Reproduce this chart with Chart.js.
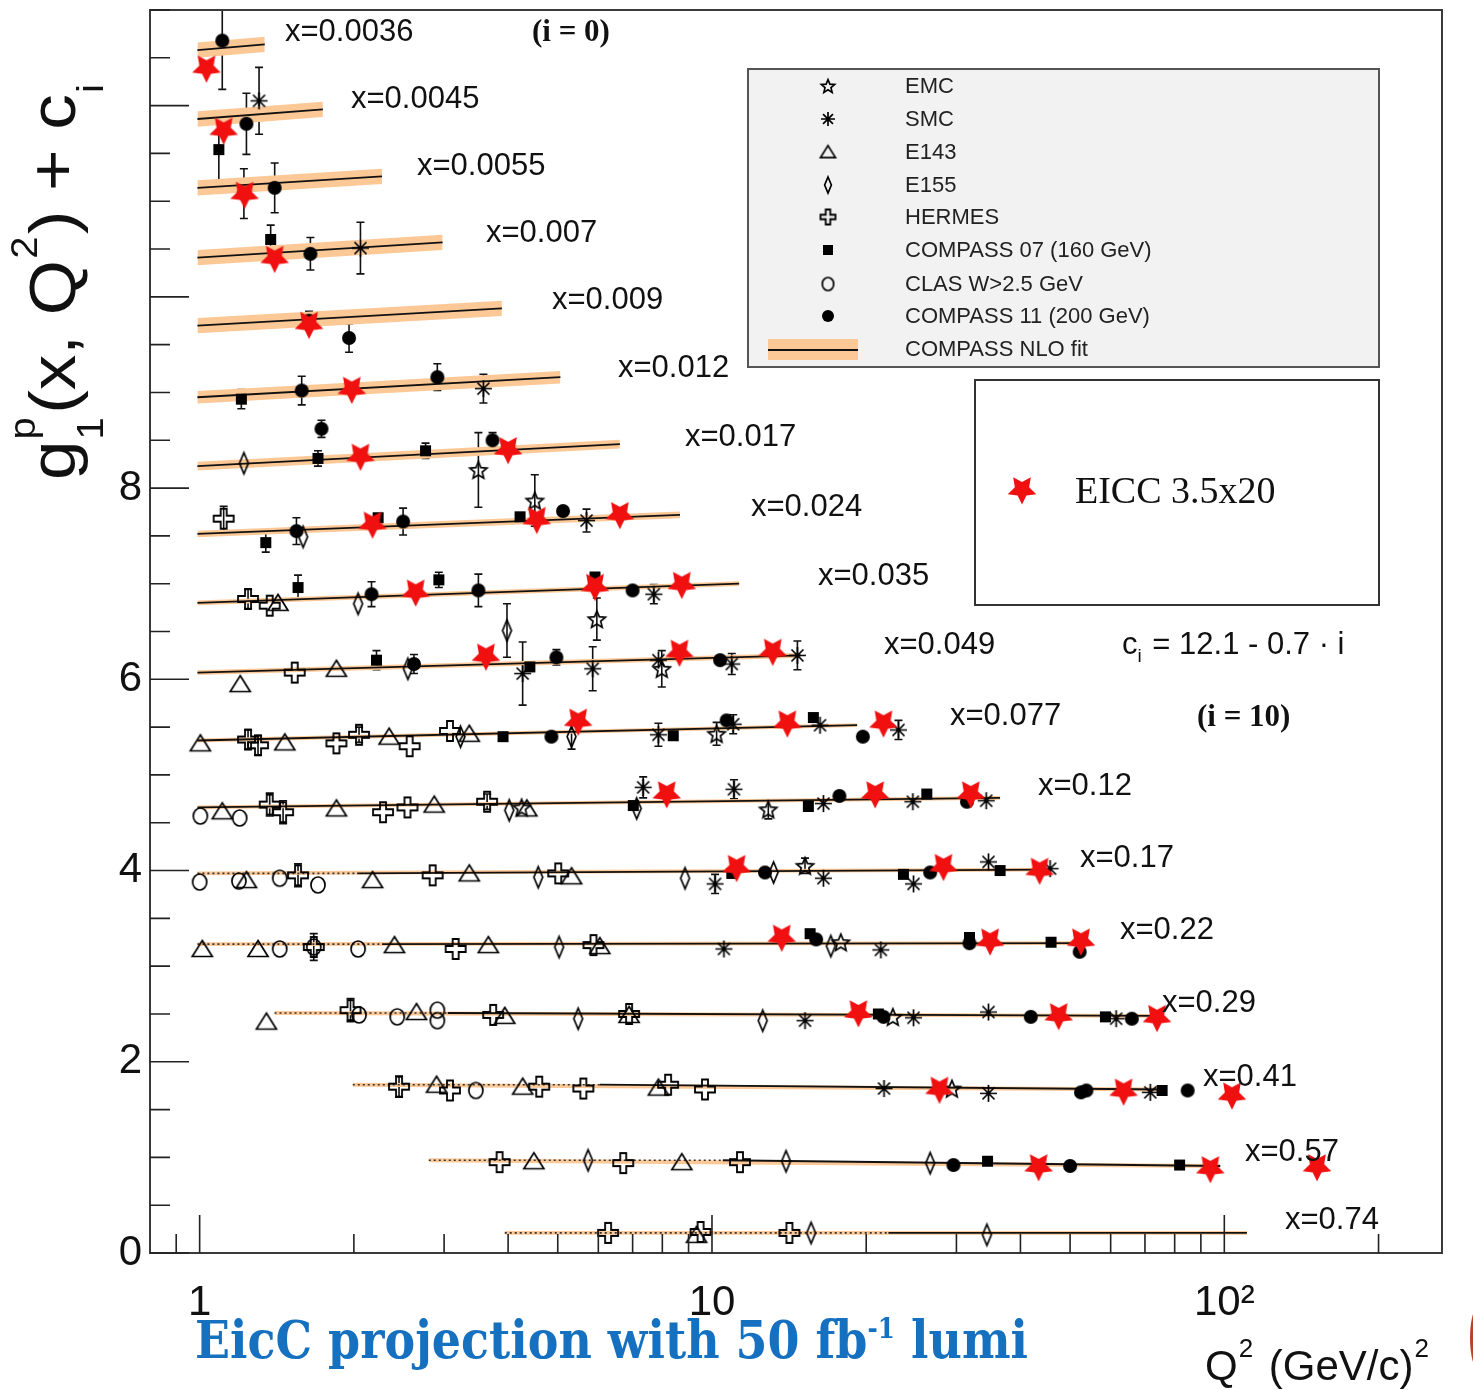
<!DOCTYPE html>
<html>
<head>
<meta charset="utf-8">
<title>g1p(x, Q2) world data with EicC projection</title>
<script src="https://cdn.jsdelivr.net/npm/chart.js@4.4.1/dist/chart.umd.min.js"></script>
<style>
  html, body { margin: 0; padding: 0; background: #fff; }
  canvas { display: block; }
</style>
</head>
<body>
<canvas id="g1chart" width="1473" height="1390"></canvas>
<script>
// x bins, i = 0 .. 17 (plotted value is g1 + c_i, c_i = 12.1 - 0.7 i)
const xBins = ['0.0036', '0.0045', '0.0055', '0.007', '0.009', '0.012', '0.017', '0.024', '0.035',
  '0.049', '0.077', '0.12', '0.17', '0.22', '0.29', '0.41', '0.57', '0.74'];

const expNames = ['EMC', 'SMC', 'E143', 'E155', 'HERMES', 'COMPASS 07 (160 GeV)',
  'CLAS W>2.5 GeV', 'COMPASS 11 (200 GeV)'];
const fitName = 'COMPASS NLO fit';
const eiccName = 'EICC 3.5x20';

// EMC
const emcQ2 = [3.50, 4.51, 5.96, 7.98, 10.21, 4.25, 12.88, 15.19, 17.84, 22.54, 29.4];
const emcVal = [8.19, 7.87, 6.63, 6.11, 5.43, 4.66, 4.64, 4.05, 3.25, 2.47, 1.72];
const emcErr = [0.39, 0.27, 0.22, 0.19, 0.12, 0, 0.10, 0.08, 0, 0, 0];

// SMC
const smcQ2 = [1.306, 2.06, 3.58, 5.69, 7.70, 4.27, 5.85, 7.86, 10.93, 14.68, 7.86, 11.0, 16.25, 23.12,
  7.34, 11.04, 16.5, 24.66, 34.3, 10.14, 16.5, 24.74, 34.65, 45.7, 10.55, 21.36, 15.19, 24.74, 34.65, 61.5,
  21.67, 34.65, 71.7];
const smcVal = [12.05, 10.51, 9.04, 7.66, 6.89, 6.06, 6.11, 6.20, 6.16, 6.25, 5.42, 5.53, 5.52, 5.47,
  4.87, 4.85, 4.70, 4.72, 4.73, 3.86, 3.92, 3.86, 4.09, 4.02, 3.18, 3.17, 2.43, 2.46, 2.52, 2.45,
  1.72, 1.67, 1.68];
const smcErr = [0.35, 0.27, 0.15, 0.12, 0.10, 0.33, 0.23, 0, 0.11, 0.15, 0.12, 0.10, 0, 0.10,
  0.11, 0.10, 0, 0, 0, 0.10, 0, 0, 0, 0, 0, 0, 0, 0, 0, 0, 0, 0, 0];

// E143
const e143Q2 = [1.422, 1.20, 1.849, 1.003, 1.466, 2.343, 3.36, 1.107, 1.849, 2.87, 4.35, 1.234, 2.175,
  3.36, 5.32, 1.012, 1.30, 2.40, 3.66, 6.04, 1.35, 2.65, 3.94, 6.89, 2.90, 4.27, 7.86, 4.49, 8.73, 9.33];
const e143Val = [6.80, 5.95, 6.11, 5.33, 5.34, 5.40, 5.43, 4.62, 4.65, 4.69, 4.65, 3.90, 3.90,
  3.97, 3.94, 3.18, 3.18, 3.22, 3.22, 3.21, 2.42, 2.52, 2.48, 2.49, 1.76, 1.74, 1.73, 0.96, 0.95, 0.19];

// E155
const e155Q2 = [1.22, 1.592, 2.038, 2.55, 3.98, 3.23, 5.32, 4.02, 7.13, 4.58, 8.86, 13.19, 5.03, 17.06,
  5.48, 12.56, 5.73, 13.95, 26.66, 15.61, 34.4];
const e155Val = [8.26, 7.49, 6.79, 6.11, 6.51, 5.40, 5.40, 4.63, 4.65, 3.93, 3.92, 3.98, 3.20, 3.21,
  2.45, 2.43, 0.97, 0.96, 0.94, 0.21, 0.19];
const e155Err = [0, 0, 0, 0, 0.28, 0, 0.13, 0, 0, 0, 0, 0, 0, 0, 0, 0, 0, 0, 0, 0, 0];

// HERMES
const hermesQ2 = [1.114, 1.243, 1.370, 1.533, 1.243, 1.30, 1.849, 2.047, 2.57, 3.08, 1.370, 1.455, 2.28,
  2.545, 3.64, 1.556, 2.85, 5.01, 1.67, 3.16, 5.87, 1.97, 3.74, 6.89, 2.45, 3.08, 4.60, 5.61, 8.21, 9.69,
  3.85, 6.71, 11.34, 6.27, 9.50, 14.16];
const hermesVal = [7.68, 6.84, 6.77, 6.07, 5.37, 5.31, 5.33, 5.42, 5.30, 5.46, 4.69, 4.61, 4.61,
  4.66, 4.72, 3.95, 3.95, 3.97, 3.20, 3.18, 3.22, 2.54, 2.49, 2.50, 1.74, 1.70, 1.74, 1.72, 1.76, 1.71,
  0.95, 0.94, 0.95, 0.21, 0.22, 0.21];
const hermesErr = [0.13, 0.10, 0, 0, 0.10, 0.10, 0, 0.08, 0, 0, 0.12, 0.12, 0,
  0, 0.08, 0.12, 0, 0, 0.14, 0, 0, 0.12, 0, 0, 0.11, 0, 0, 0, 0, 0,
  0, 0, 0, 0, 0, 0];

// COMPASS 07 (160 GeV)
const c07Q2 = [1.09, 1.376, 1.206, 1.702, 2.76, 1.346, 2.23, 4.22, 1.556, 2.93, 5.91, 2.214, 4.41,
  3.91, 8.40, 15.77, 7.02, 15.42, 26.26, 10.93, 23.64, 36.5, 15.54, 31.81, 45.9, 21.12, 58.6, 75.6, 34.5, 81.8];
const c07Val = [11.54, 10.60, 8.93, 8.31, 8.39, 7.43, 7.69, 7.70, 6.96, 7.04, 7.07, 6.20, 6.13,
  5.40, 5.41, 5.60, 4.68, 4.67, 4.80, 3.97, 3.96, 4.00, 3.34, 3.30, 3.25, 2.50, 2.47, 1.70, 0.96, 0.92];
const c07Err = [0.39, 0.15, 0.10, 0.08, 0.08, 0.10, 0, 0, 0.13, 0.08, 0, 0.10, 0,
  0, 0, 0, 0, 0, 0, 0, 0, 0, 0, 0, 0, 0, 0, 0, 0, 0];

// CLAS W > 2.5 GeV
const clasQ2 = [1.003, 1.197, 1.0, 1.193, 1.433, 1.702, 1.433, 1.67, 2.038, 2.047, 2.43, 2.91, 2.91, 3.46];
const clasVal = [4.57, 4.55, 3.88, 3.89, 3.92, 3.85, 3.18, 3.20, 3.18, 2.49, 2.47, 2.54, 2.43, 1.70];

// COMPASS 11 (200 GeV)
const c11Q2 = [1.107, 1.234, 1.22, 1.401, 1.645, 1.635, 1.957, 1.582, 2.91, 1.729, 3.73, 1.545, 2.495,
  5.12, 2.165, 3.50, 7.0, 2.62, 4.97, 10.37, 4.86, 10.68, 19.70, 17.73, 31.45, 12.69, 26.66, 15.97, 31.81,
  52.2, 21.61, 41.9, 66.0, 52.5, 53.8, 84.8, 29.6, 50.0];
const c11Val = [12.68, 11.81, 11.08, 11.14, 10.45, 9.75, 9.57, 9.02, 9.16, 8.62, 8.50, 7.55, 7.65,
  7.76, 6.89, 6.93, 6.93, 6.16, 6.23, 6.20, 5.40, 5.57, 5.40, 4.78, 4.72, 3.98, 3.98, 3.28, 3.24,
  3.15, 2.47, 2.47, 2.45, 1.68, 1.70, 1.70, 0.92, 0.91];
const c11Err = [0.51, 0.32, 0.26, 0.26, 0.17, 0.10, 0.15, 0.15, 0.14, 0.09, 0.08, 0.14, 0.14,
  0, 0.13, 0.17, 0, 0.10, 0.08, 0, 0, 0, 0, 0, 0, 0, 0, 0, 0,
  0, 0, 0, 0, 0, 0, 0, 0, 0];

// EicC 3.5 x 20 projection
const eiccQ2 = [1.031, 1.114, 1.224, 1.401, 1.635, 1.981, 2.06, 4.00, 2.175, 4.55, 6.61, 2.64, 5.91,
  8.73, 3.62, 8.64, 13.14, 5.48, 14.03, 21.61, 8.16, 20.82, 32.0, 11.17, 28.30, 43.6, 13.68, 34.9, 52.5,
  19.31, 47.5, 73.9, 27.8, 63.6, 103.5, 43.4, 93.9, 151.7];
const eiccVal = [12.38, 11.73, 11.06, 10.39, 9.70, 9.02, 8.32, 8.39, 7.61, 7.66, 7.71, 6.90, 6.96,
  6.98, 6.23, 6.27, 6.28, 5.55, 5.53, 5.53, 4.79, 4.79, 4.79, 4.02, 4.03, 3.99, 3.29, 3.25, 3.25,
  2.50, 2.47, 2.45, 1.70, 1.68, 1.64, 0.89, 0.87, 0.89];

// COMPASS NLO fit per bin: Q2 range (dotted below fitSolidQ2), end values and band half-width
const fitLoQ2 = [0.99, 0.99, 0.99, 0.99, 0.99, 0.99, 0.99, 0.99, 0.99, 0.99, 0.99, 0.99, 0.99, 0.99,
  1.40, 1.99, 2.80, 3.94];
const fitSolidQ2 = [0.99, 0.99, 0.99, 0.99, 0.99, 0.99, 0.99, 0.99, 0.99, 0.99, 0.99, 0.99, 2.03, 2.27,
  3.05, 6.04, 10.5, 22.1];
const fitHiQ2 = [1.34, 1.74, 2.27, 2.98, 3.89, 5.06, 6.61, 8.66, 11.3, 14.9, 19.2, 36.5, 44.7, 54.7,
  75, 76.7, 98.2, 110.7];
const fitLoVal = [12.58, 11.86, 11.14, 10.41, 9.70, 8.95, 8.23, 7.52, 6.80, 6.07, 5.36, 4.66, 3.97,
  3.23, 2.51, 1.76, 0.97, 0.21];
const fitHiVal = [12.64, 11.96, 11.26, 10.57, 9.88, 9.16, 8.46, 7.72, 7.00, 6.25, 5.52, 4.76, 4.01,
  3.24, 2.48, 1.71, 0.91, 0.21];
const fitErr = [0.08, 0.08, 0.08, 0.08, 0.08, 0.065, 0.045, 0.035, 0.025, 0.025, 0.02, 0.02, 0.02,
  0.02, 0.02, 0.02, 0.02, 0.02];

// axis ticks
const xTicks = [0.9, 1, 2, 3, 4, 5, 6, 7, 8, 9, 10, 20, 30, 40, 50, 60, 70, 80, 90, 100, 200];
const xMajorTicks = [1, 10, 100];
const xTickLabels = {1: '1', 10: '10', 100: '10\u00B2'};
const yTicks = [];
for (let v = 0; v <= 13; v += 0.5) yTicks.push(v);
const yTickLabels = [0, 2, 4, 6, 8];

const SANS = '"Liberation Sans", Arial, Helvetica, sans-serif';
const SERIF = '"Liberation Serif", "Times New Roman", serif';
const BAND = '#fcc896';

// marker bitmaps, drawn once and used as pointStyle
function starPath(c, cx, cy, ro, ri, a0) {
  for (let k = 0; k < 10; k++) {
    const r = k % 2 ? ri : ro;
    const a = a0 + k * Math.PI / 5;
    const px = cx + r * Math.cos(a), py = cy + r * Math.sin(a);
    if (k === 0) c.moveTo(px, py); else c.lineTo(px, py);
  }
  c.closePath();
}

function makeMarker(kind, s) {
  const n = Math.ceil(s) + 6;
  const cv = document.createElement('canvas');
  cv.width = n; cv.height = n;
  const c = cv.getContext('2d');
  const m = n / 2, r = s / 2;
  c.lineWidth = 1.7;
  c.strokeStyle = '#000';
  c.fillStyle = '#000';
  c.beginPath();
  switch (kind) {
    case 'dot':
      c.arc(m, m, r, 0, 2 * Math.PI); c.fill(); break;
    case 'square':
      c.fillRect(m - r, m - r, s, s); break;
    case 'ring':
      c.ellipse(m, m, r * 0.88, r, 0, 0, 2 * Math.PI); c.stroke(); break;
    case 'triangle':
      c.moveTo(m, m - r * 0.85); c.lineTo(m + r, m + r * 0.75); c.lineTo(m - r, m + r * 0.75);
      c.closePath(); c.stroke(); break;
    case 'asterisk':
      for (let k = 0; k < 4; k++) {
        const a = k * Math.PI / 4;
        c.moveTo(m + r * Math.cos(a), m + r * Math.sin(a));
        c.lineTo(m - r * Math.cos(a), m - r * Math.sin(a));
      }
      c.stroke(); break;
    case 'ostar':
      starPath(c, m, m + r * 0.1, r, r * 0.45, -Math.PI / 2); c.stroke(); break;
    case 'ocross': {
      const a = r * 0.3;
      const pts = [[-a, -r], [a, -r], [a, -a], [r, -a], [r, a], [a, a], [a, r], [-a, r],
        [-a, a], [-r, a], [-r, -a], [-a, -a]];
      pts.forEach(([px, py], k) => k ? c.lineTo(m + px, m + py) : c.moveTo(m + px, m + py));
      c.closePath(); c.lineWidth = 1.8; c.stroke(); break;
    }
    case 'diamond':
      c.moveTo(m, m - r); c.lineTo(m + r * 0.42, m); c.lineTo(m, m + r); c.lineTo(m - r * 0.42, m);
      c.closePath(); c.stroke(); break;
    case 'redstar':
      c.fillStyle = '#f01010';
      starPath(c, m, m - r * 0.1, r, r * 0.5, Math.PI / 2); c.fill(); break;
  }
  return cv;
}

const pointSets = [
  {label: expNames[0], q: emcQ2, v: emcVal, e: emcErr, kind: 'ostar', size: 18, legendSize: 14},
  {label: expNames[1], q: smcQ2, v: smcVal, e: smcErr, kind: 'asterisk', size: 17, legendSize: 14},
  {label: expNames[2], q: e143Q2, v: e143Val, e: null, kind: 'triangle', size: 20, legendSize: 15},
  {label: expNames[3], q: e155Q2, v: e155Val, e: e155Err, kind: 'diamond', size: 21, legendSize: 16},
  {label: expNames[4], q: hermesQ2, v: hermesVal, e: hermesErr, kind: 'ocross', size: 20, legendSize: 15},
  {label: expNames[5], q: c07Q2, v: c07Val, e: c07Err, kind: 'square', size: 11, legendSize: 10},
  {label: expNames[6], q: clasQ2, v: clasVal, e: null, kind: 'ring', size: 16, legendSize: 13},
  {label: expNames[7], q: c11Q2, v: c11Val, e: c11Err, kind: 'dot', size: 14, legendSize: 12}
];

const toPoints = (q, v) => q.map((x, k) => ({x: x, y: v[k]}));

const datasets = [];

// fit bands and lines
xBins.forEach((_, i) => {
  datasets.push({
    type: 'line', label: 'band+' + i,
    data: [{x: fitLoQ2[i], y: fitLoVal[i] + fitErr[i]}, {x: fitHiQ2[i], y: fitHiVal[i] + fitErr[i]}],
    borderWidth: 0, pointRadius: 0, fill: false, order: 4
  });
  datasets.push({
    type: 'line', label: 'band-' + i,
    data: [{x: fitLoQ2[i], y: fitLoVal[i] - fitErr[i]}, {x: fitHiQ2[i], y: fitHiVal[i] - fitErr[i]}],
    borderWidth: 0, pointRadius: 0, fill: '-1', backgroundColor: BAND, order: 4
  });
  if (fitSolidQ2[i] > fitLoQ2[i]) {
    datasets.push({
      type: 'line', label: 'fit dotted ' + i,
      data: [{x: fitLoQ2[i], y: fitLoVal[i]}, {x: fitSolidQ2[i], y: fitLoVal[i]}],
      borderColor: '#333', borderWidth: 1.6, borderDash: [2, 3], pointRadius: 0, fill: false, order: 2
    });
  }
  datasets.push({
    type: 'line', label: 'fit ' + i,
    data: [{x: fitSolidQ2[i], y: fitLoVal[i]}, {x: fitHiQ2[i], y: fitHiVal[i]}],
    borderColor: '#111', borderWidth: 1.8, pointRadius: 0, fill: false, order: 2
  });
});

// measured points
pointSets.forEach(s => {
  datasets.push({
    label: s.label,
    data: toPoints(s.q, s.v),
    errs: s.e,
    pointStyle: makeMarker(s.kind, s.size),
    pointRadius: s.size / 2,
    showLine: false,
    order: 1
  });
});

// projection on top
const eiccMarker = makeMarker('redstar', 30);
datasets.push({
  label: eiccName,
  data: toPoints(eiccQ2, eiccVal),
  pointStyle: eiccMarker,
  pointRadius: 15,
  showLine: false,
  order: 0
});

// vertical error bars with caps, under the markers
const errorBars = {
  id: 'errorBars',
  beforeDatasetsDraw(chart) {
    const {ctx, chartArea: a, scales: {x, y}} = chart;
    ctx.save();
    ctx.beginPath();
    ctx.rect(a.left, a.top, a.right - a.left, a.bottom - a.top);
    ctx.clip();
    ctx.strokeStyle = '#111';
    ctx.lineWidth = 1.6;
    ctx.beginPath();
    chart.data.datasets.forEach(ds => {
      if (!ds.errs) return;
      ds.data.forEach((p, k) => {
        const e = ds.errs[k];
        if (!e) return;
        const px = x.getPixelForValue(p.x);
        const top = y.getPixelForValue(p.y + e);
        const bot = y.getPixelForValue(p.y - e);
        ctx.moveTo(px, top); ctx.lineTo(px, bot);
        ctx.moveTo(px - 4, top); ctx.lineTo(px + 4, top);
        ctx.moveTo(px - 4, bot); ctx.lineTo(px + 4, bot);
      });
    });
    ctx.stroke();
    ctx.restore();
  }
};

// frame with inward ticks
const frameTicks = {
  id: 'frameTicks',
  afterDatasetsDraw(chart) {
    const {ctx, chartArea: a, scales: {x, y}} = chart;
    ctx.save();
    ctx.strokeStyle = '#3a3a3a';
    ctx.lineWidth = 2;
    ctx.strokeRect(a.left, a.top, a.right - a.left, a.bottom - a.top);
    ctx.strokeStyle = '#222';
    ctx.lineWidth = 1.6;
    ctx.beginPath();
    x.ticks.forEach(t => {
      const px = x.getPixelForValue(t.value);
      const len = xMajorTicks.includes(t.value) ? 38 : 19;
      ctx.moveTo(px, a.bottom); ctx.lineTo(px, a.bottom - len);
    });
    y.ticks.forEach(t => {
      const py = y.getPixelForValue(t.value);
      const len = t.value % 2 === 0 ? 39 : 20;
      ctx.moveTo(a.left, py); ctx.lineTo(a.left + len, py);
    });
    ctx.stroke();
    ctx.restore();
  }
};

const binLabelPos = [[285, 32], [351, 99], [417, 166], [486, 233], [552, 300], [618, 368], [685, 437],
  [751, 507], [818, 576], [884, 645], [950, 716], [1038, 786], [1080, 858], [1120, 930], [1162, 1003],
  [1203, 1077], [1245, 1152], [1285, 1220]];

function drawYTitle(ctx) {
  ctx.save();
  ctx.translate(75, 480);
  ctx.rotate(-Math.PI / 2);
  ctx.scale(1.11, 1);
  ctx.fillStyle = '#111';
  ctx.textBaseline = 'alphabetic';
  const big = '64px ' + SANS, small = '36px ' + SANS;
  let px = 0;
  ctx.font = big; ctx.fillText('g', px, 0); px += ctx.measureText('g').width;
  ctx.font = small;
  ctx.fillText('p', px + 1, -40); ctx.fillText('1', px + 1, 28);
  px += Math.max(ctx.measureText('p').width, ctx.measureText('1').width) + 4;
  ctx.font = big; ctx.fillText('(x, Q', px, 0); px += ctx.measureText('(x, Q').width;
  ctx.font = small; ctx.fillText('2', px + 1, -38); px += ctx.measureText('2').width + 3;
  ctx.font = big; ctx.fillText(') + c', px, 0); px += ctx.measureText(') + c').width;
  ctx.font = small; ctx.fillText('i', px + 1, 28);
  ctx.restore();
}

function drawLegends(ctx) {
  ctx.save();
  // experiments box
  ctx.fillStyle = '#f2f2f2';
  ctx.fillRect(748, 69, 631, 298);
  ctx.strokeStyle = '#555';
  ctx.lineWidth = 2;
  ctx.strokeRect(748, 69, 631, 298);
  const rowY = [86, 119, 152, 185, 217, 250, 284, 316, 349];
  ctx.font = '22px ' + SANS;
  ctx.fillStyle = '#222';
  ctx.textBaseline = 'middle';
  pointSets.forEach((s, k) => {
    const mk = makeMarker(s.kind, s.legendSize);
    ctx.drawImage(mk, 828 - mk.width / 2, rowY[k] - mk.height / 2);
    ctx.fillText(s.label, 905, rowY[k] + 1);
  });
  ctx.fillStyle = BAND;
  ctx.fillRect(768, 339, 90, 21);
  ctx.strokeStyle = '#111';
  ctx.lineWidth = 2;
  ctx.beginPath(); ctx.moveTo(768, 350); ctx.lineTo(858, 350); ctx.stroke();
  ctx.fillStyle = '#222';
  ctx.fillText(fitName, 905, rowY[8] + 1);

  // projection box
  ctx.fillStyle = '#fff';
  ctx.fillRect(975, 380, 404, 225);
  ctx.strokeStyle = '#333';
  ctx.lineWidth = 2;
  ctx.strokeRect(975, 380, 404, 225);
  ctx.drawImage(eiccMarker, 1022 - eiccMarker.width / 2, 491 - eiccMarker.height / 2);
  ctx.fillStyle = '#111';
  ctx.font = '38px ' + SERIF;
  ctx.fillText(eiccName, 1075, 493);
  ctx.restore();
}

function drawAnnotations(ctx) {
  ctx.save();
  ctx.fillStyle = '#111';
  ctx.textBaseline = 'middle';
  ctx.font = '31px ' + SANS;
  xBins.forEach((b, i) => ctx.fillText('x=' + b, binLabelPos[i][0], binLabelPos[i][1]));

  ctx.font = 'bold 31px ' + SERIF;
  ctx.fillText('(i = 0)', 532, 33);
  ctx.fillText('(i = 10)', 1197, 718);

  // c_i = 12.1 - 0.7 · i
  ctx.font = '31px ' + SANS;
  ctx.fillText('c', 1122, 645);
  let px = 1122 + ctx.measureText('c').width;
  ctx.font = '19px ' + SANS;
  ctx.fillText('i', px, 657);
  px += ctx.measureText('i').width + 2;
  ctx.font = '31px ' + SANS;
  ctx.fillText(' = 12.1 - 0.7 \u00B7 i', px, 645);

  // x axis title
  ctx.textBaseline = 'alphabetic';
  ctx.font = '42px ' + SANS;
  ctx.fillText('Q', 1205, 1380);
  px = 1205 + ctx.measureText('Q').width;
  ctx.font = '26px ' + SANS;
  ctx.fillText('2', px + 1, 1357);
  px += ctx.measureText('2').width + 5;
  ctx.font = '42px ' + SANS;
  ctx.fillText(' (GeV/c)', px, 1380);
  px += ctx.measureText(' (GeV/c)').width;
  ctx.font = '26px ' + SANS;
  ctx.fillText('2', px + 1, 1357);
  ctx.restore();

  drawYTitle(ctx);

  // blue footnote
  ctx.save();
  ctx.fillStyle = '#1670c0';
  ctx.textBaseline = 'alphabetic';
  const main = 'bold 52px "DejaVu Serif", serif', sup = 'bold 28px "DejaVu Serif", serif';
  const a = 'EicC projection with 50 fb', b = '-1', c = ' lumi';
  ctx.font = main;
  const wa = ctx.measureText(a).width, wc = ctx.measureText(c).width;
  ctx.font = sup;
  const wb = ctx.measureText(b).width;
  ctx.translate(195, 1358);
  ctx.scale(833 / (wa + wb + wc), 1);
  ctx.font = main; ctx.fillText(a, 0, 0);
  ctx.font = sup; ctx.fillText(b, wa, -20);
  ctx.font = main; ctx.fillText(c, wa + wb, 0);
  ctx.restore();

  // clipped sliver at the right edge
  ctx.save();
  ctx.fillStyle = '#b5432a';
  ctx.beginPath();
  ctx.ellipse(1479, 1338, 9, 32, 0, 0, 2 * Math.PI);
  ctx.fill();
  ctx.restore();
}

const textLayer = {
  id: 'textLayer',
  afterDraw(chart) {
    drawLegends(chart.ctx);
    drawAnnotations(chart.ctx);
  }
};

new Chart(document.getElementById('g1chart').getContext('2d'), {
  type: 'scatter',
  data: {datasets: datasets},
  options: {
    responsive: false,
    devicePixelRatio: 1,
    animation: false,
    events: [],
    layout: {autoPadding: false, padding: {top: 10, right: 31, bottom: 0, left: 0}},
    plugins: {
      legend: {display: false},
      tooltip: {enabled: false}
    },
    scales: {
      x: {
        type: 'logarithmic',
        min: 0.8,
        max: 266,
        grid: {display: false, drawTicks: false},
        border: {display: false},
        afterBuildTicks: s => { s.ticks = xTicks.map(v => ({value: v})); },
        afterFit: s => { s.height = 137; s.paddingLeft = 0; s.paddingRight = 0; },
        ticks: {
          autoSkip: false,
          maxRotation: 0,
          padding: 25,
          color: '#111',
          font: {family: SANS, size: 42},
          callback: v => xTickLabels[v] || ''
        }
      },
      y: {
        type: 'linear',
        min: 0,
        max: 13,
        grid: {display: false, drawTicks: false},
        border: {display: false},
        afterBuildTicks: s => { s.ticks = yTicks.map(v => ({value: v})); },
        afterFit: s => { s.width = 150; s.paddingTop = 0; s.paddingBottom = 0; },
        ticks: {
          autoSkip: false,
          padding: 8,
          color: '#111',
          font: {family: SANS, size: 42},
          callback: v => yTickLabels.includes(v) ? String(v) : ''
        }
      }
    }
  },
  plugins: [errorBars, frameTicks, textLayer]
});
</script>
</body>
</html>
